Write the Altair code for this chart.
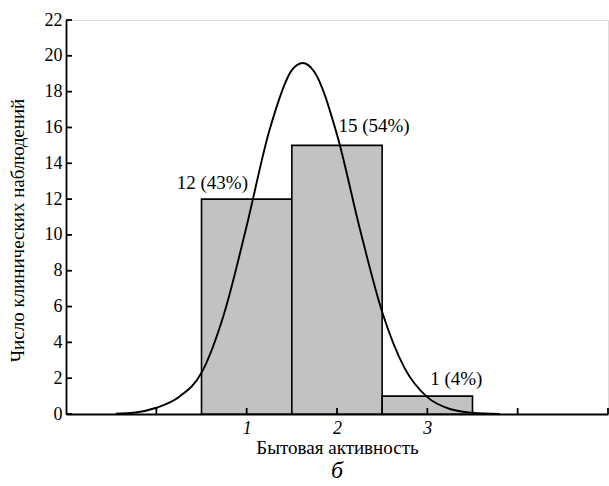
import altair as alt
import pandas as pd

# Histogram bins (Бытовая активность classes 1, 2, 3)
bin_start = [0.5, 1.5, 2.5]
bin_end = [1.5, 2.5, 3.5]
counts = [12, 15, 1]

# Bar labels
label_text = ["12 (43%)", "15 (54%)", "1 (4%)"]
label_x = [0.62, 2.41, 3.32]
label_y = [12.9, 16.1, 1.95]

# Fitted normal curve
curve_x = [-0.45, -0.25, 0.0, 0.25, 0.5, 0.75, 1.0, 1.25, 1.5, 1.62, 1.75, 2.0, 2.25, 2.5, 2.75, 3.0, 3.25, 3.5, 3.8]
curve_y = [0.02, 0.07, 0.35, 0.95, 2.3, 5.6, 10.5, 15.8, 19.2, 19.6, 19.1, 15.6, 10.4, 5.7, 2.55, 0.94, 0.28, 0.07, 0.0]

y_ticks = [0, 2, 4, 6, 8, 10, 12, 14, 16, 18, 20, 22]
x_ticks = [0, 1, 2, 3, 4, 5]
x_labels = [1, 2, 3]

FONT = "Liberation Serif"
W, H = 542, 394

bars_df = pd.DataFrame({"x0": bin_start, "x1": bin_end, "n": counts})
lab_df = pd.DataFrame({"t": label_text, "x": label_x, "y": label_y})
curve_df = pd.DataFrame({"x": curve_x, "y": curve_y})
yt_df = pd.DataFrame({"v": y_ticks})
xt_df = pd.DataFrame({"v": x_ticks})

xs = alt.Scale(domain=[-1, 5], nice=False, zero=False)
ys = alt.Scale(domain=[0, 22], nice=False)

x_axis = alt.Axis(
    values=x_labels, format="d", ticks=False, grid=False, domainColor="black", domainWidth=1.8,
    labelFont=FONT, labelFontSize=18, labelFontStyle="italic", labelColor="black",
    labelPadding=5, labelOverlap=False,
    title="Бытовая активность", titleFont=FONT, titleFontSize=19,
    titleFontWeight="normal", titleColor="black", titleY=33, titleBaseline="middle",
)
y_axis = alt.Axis(
    values=y_ticks, format="d", ticks=False, grid=False, domainColor="black", domainWidth=1.8,
    labelFont=FONT, labelFontSize=18, labelColor="black", labelPadding=4,
    labelOverlap=False, labelFlush=False,
    title="Число клинических наблюдений", titleFont=FONT, titleFontSize=19,
    titleFontWeight="normal", titleColor="black", titleAngle=270,
    titleX=-49, titleY=210, titleBaseline="middle", titleAlign="center",
)

bars = alt.Chart(bars_df).mark_rect(
    fill="#c2c2c2", stroke="black", strokeWidth=1.6
).encode(
    x=alt.X("x0:Q", scale=xs, axis=x_axis),
    x2="x1:Q",
    y=alt.Y("n:Q", scale=ys, axis=y_axis),
    y2=alt.datum(0),
)

curve = alt.Chart(curve_df).mark_line(
    color="black", strokeWidth=1.9, interpolate="monotone"
).encode(
    x=alt.X("x:Q", scale=xs, axis=x_axis),
    y=alt.Y("y:Q", scale=ys, axis=y_axis),
)

labels = alt.Chart(lab_df).mark_text(
    font=FONT, fontSize=19, color="black", align="center", baseline="middle"
).encode(
    x=alt.X("x:Q", scale=xs, axis=x_axis),
    y=alt.Y("y:Q", scale=ys, axis=y_axis),
    text="t:N",
)

yticks = alt.Chart(yt_df).mark_rule(color="black", strokeWidth=1.8).encode(
    y=alt.Y("v:Q", scale=ys, axis=y_axis),
    x=alt.value(0),
    x2=alt.value(6),
)

xticks = alt.Chart(xt_df).mark_rule(color="black", strokeWidth=1.8).encode(
    x=alt.X("v:Q", scale=xs, axis=x_axis),
    y=alt.value(H - 6),
    y2=alt.value(H),
)

chart = alt.layer(bars, curve, labels, yticks, xticks).properties(
    width=W,
    height=H,
    autosize=alt.AutoSizeParams(type="none"),
    padding={"left": 66, "top": 20, "right": 1, "bottom": 72},
    title=alt.TitleParams(
        text="б", orient="bottom", anchor="middle", font=FONT, fontSize=24,
        fontStyle="italic", fontWeight="normal", color="black", offset=2,
    ),
).configure_view(stroke=None).configure(
    background="white", font=FONT
).configure_axis(
    labelFont=FONT, titleFont=FONT
).configure_text(font=FONT)

chart.save("out.html", embed_options={"renderer": "svg", "actions": False})
